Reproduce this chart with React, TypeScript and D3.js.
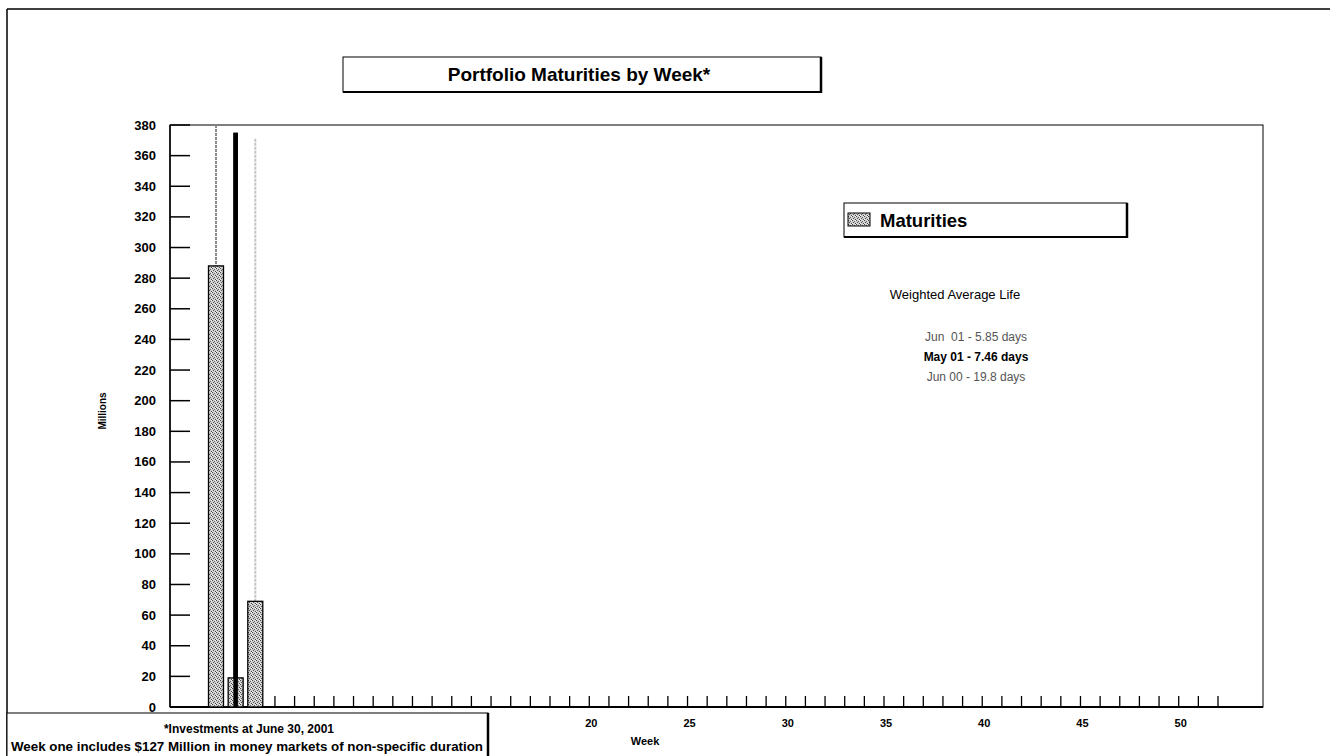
import React from 'react';
import * as d3 from 'd3';

// weekly maturities, millions
const weeks = [1, 2, 3];
const maturities = [288, 19, 69];

// vertical scan streaks in the source (week, top value, bottom value)
const streakWeeks = [1, 2, 3];
const streakTops = [380, 375, 371];
const streakBottoms = [288, 0, 69];
const streakColors = ['#8a8a8a', '#000', '#c4c4c4'];
const streakWidths = [2, 4.5, 2];

const yTicks = [0, 20, 40, 60, 80, 100, 120, 140, 160, 180, 200, 220, 240, 260, 280, 300, 320, 340, 360, 380];
const weekTicks = d3.range(4, 53);
const weekLabels = [20, 25, 30, 35, 40, 45, 50];

const walTitle = 'Weighted Average Life';
const walRows = ['Jun  01 - 5.85 days', 'May 01 - 7.46 days', 'Jun 00 - 19.8 days'];
const walBold = [false, true, false];

const W = 1330;
const H = 756;
const plot = { left: 170, right: 1263, top: 125, bottom: 707 };
const font = '"Liberation Sans", Arial, sans-serif';

export default function App() {
  const y = d3.scaleLinear().domain([0, 380]).range([plot.bottom, plot.top]);
  const x = d3.scaleLinear().domain([1, 52]).range([216, 1218]);
  const barW = 15;

  return (
    <div style={{ position: 'fixed', left: 0, top: 0 }}>
      <svg width={W} height={H} style={{ display: 'block', background: '#fff' }} fontFamily={font}>
        <defs>
          <pattern id="stipple" width="4" height="4" patternUnits="userSpaceOnUse">
            <rect width="4" height="4" fill="#cfcfcf" />
            <rect x="0" y="0" width="1" height="1" fill="#444" />
            <rect x="2" y="1" width="1" height="1" fill="#666" />
            <rect x="1" y="2" width="1" height="1" fill="#555" />
            <rect x="3" y="3" width="1" height="1" fill="#444" />
            <rect x="3" y="0" width="1" height="1" fill="#f4f4f4" />
            <rect x="0" y="3" width="1" height="1" fill="#f0f0f0" />
          </pattern>
        </defs>

        {/* outer frame */}
        <line x1={7} x2={W} y1={9} y2={9} stroke="#000" strokeWidth={1.5} />
        <line x1={7} x2={7} y1={9} y2={H} stroke="#000" strokeWidth={1.5} />

        {/* title */}
        <rect x={343} y={57} width={478} height={35} fill="#fff" stroke="#000" strokeWidth={1} />
        <line x1={821} x2={821} y1={57} y2={93} stroke="#000" strokeWidth={2.5} />
        <line x1={343} x2={822} y1={92} y2={92} stroke="#000" strokeWidth={2} />
        <text x={579} y={81} textAnchor="middle" fontSize={19} fontWeight="bold">
          Portfolio Maturities by Week*
        </text>

        {/* plot frame */}
        <rect x={plot.left} y={plot.top} width={plot.right - plot.left} height={plot.bottom - plot.top}
          fill="none" stroke="#000" strokeWidth={1} />
        <line x1={plot.left} x2={plot.right} y1={plot.bottom} y2={plot.bottom} stroke="#000" strokeWidth={2} />
        <line x1={plot.left} x2={plot.left} y1={plot.top} y2={plot.bottom} stroke="#000" strokeWidth={1.5} />

        {/* y axis */}
        {yTicks.map(t => (
          <g key={t}>
            <line x1={plot.left} x2={plot.left + 20} y1={y(t)} y2={y(t)} stroke="#000" strokeWidth={1.5} />
            <text x={156} y={y(t)} dy="0.35em" textAnchor="end" fontSize={13} fontWeight="bold">{t}</text>
          </g>
        ))}
        <text transform={`translate(106,${(plot.top + plot.bottom) / 2 - 5}) rotate(-90)`} textAnchor="middle"
          fontSize={10} fontWeight="bold">Millions</text>

        {/* x axis */}
        {weekTicks.map(w => (
          <line key={w} x1={x(w)} x2={x(w)} y1={plot.bottom} y2={plot.bottom - 11} stroke="#000" strokeWidth={1.3} />
        ))}
        {weekLabels.map(w => (
          <text key={w} x={x(w) + 2} y={727} textAnchor="middle" fontSize={11} fontWeight="bold">{w}</text>
        ))}
        <text x={645} y={745} textAnchor="middle" fontSize={11} fontWeight="bold">Week</text>

        {/* streaks */}
        {streakWeeks.map((w, i) => (
          <line key={w} x1={x(w)} x2={x(w)} y1={y(streakTops[i])} y2={y(streakBottoms[i])}
            stroke={streakColors[i]} strokeWidth={streakWidths[i]} strokeDasharray={i === 1 ? undefined : '3 1'} />
        ))}

        {/* bars */}
        {weeks.map((w, i) => (
          <rect key={w} x={x(w) - barW / 2} y={y(maturities[i])} width={barW}
            height={y(0) - y(maturities[i])} fill="url(#stipple)" stroke="#000" strokeWidth={1.3} />
        ))}
        <line x1={x(2)} x2={x(2)} y1={y(streakTops[1])} y2={y(0)} stroke="#000" strokeWidth={4.5} />

        {/* legend */}
        <rect x={844} y={203} width={283} height={34} fill="#fff" stroke="#000" strokeWidth={1} />
        <line x1={1127} x2={1127} y1={203} y2={238} stroke="#000" strokeWidth={2.5} />
        <line x1={844} x2={1128} y1={237} y2={237} stroke="#000" strokeWidth={2} />
        <rect x={848} y={213} width={22} height={13} fill="url(#stipple)" stroke="#000" strokeWidth={1} />
        <text x={880} y={227} fontSize={18.5} fontWeight="bold">Maturities</text>

        {/* weighted average life */}
        <text x={955} y={299} textAnchor="middle" fontSize={13}>{walTitle}</text>
        {walRows.map((r, i) => (
          <text key={r} x={976} y={341 + i * 20} textAnchor="middle" fontSize={12}
            fontWeight={walBold[i] ? 'bold' : 'normal'} fill={walBold[i] ? '#000' : '#555'}
            style={{ whiteSpace: 'pre' }}>{r}</text>
        ))}

        {/* footnote */}
        <rect x={7} y={713} width={481} height={50} fill="#fff" stroke="#000" strokeWidth={1} />
        <line x1={488} x2={488} y1={713} y2={H} stroke="#000" strokeWidth={2.5} />
        <text x={249} y={733} textAnchor="middle" fontSize={12} fontWeight="bold">*Investments at June 30, 2001</text>
        <text x={247} y={751} textAnchor="middle" fontSize={12.5} fontWeight="bold" textLength={472}
          lengthAdjust="spacingAndGlyphs">
          Week one includes $127 Million in money markets of non-specific duration
        </text>
      </svg>
    </div>
  );
}
